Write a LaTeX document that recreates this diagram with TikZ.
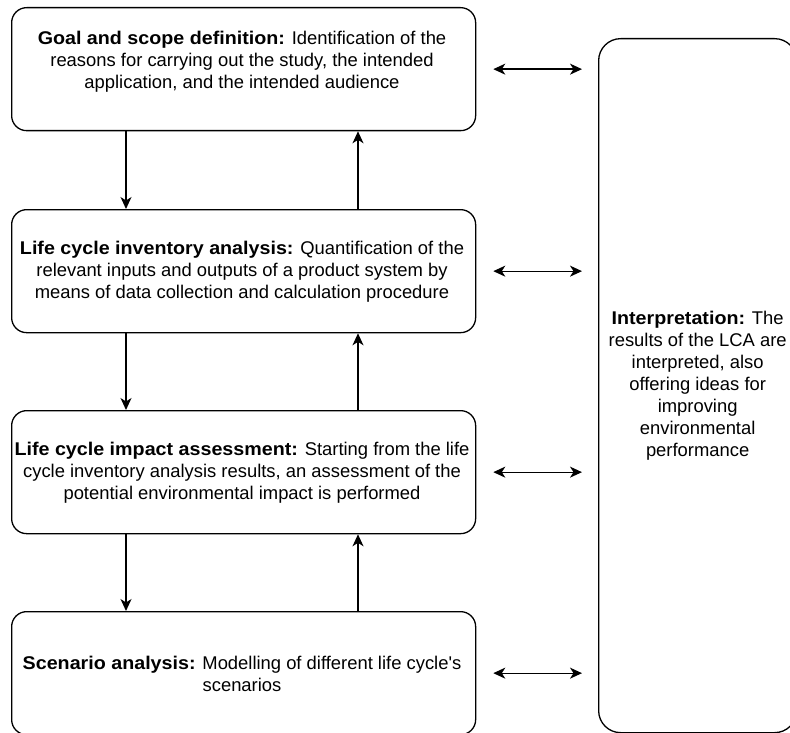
\documentclass[tikz,border=0pt]{standalone}
\usepackage{fontspec}
\setmainfont{Liberation Sans}[Ligatures=TeXOff, BoldFeatures={FakeStretch=1.07}]
\usetikzlibrary{arrows.meta}
\begin{document}
\begin{tikzpicture}[x=1pt,y=-1pt,
  box/.style={draw, line width=1.3pt, rounded corners=15pt, minimum width=464pt, minimum height=123pt, inner sep=0pt, anchor=north west},
  bigbox/.style={draw, line width=1.3pt, rounded corners=22pt, minimum width=198pt, minimum height=694pt, inner sep=0pt, anchor=north west, align=center, font=\fontsize{18.4}{22}\selectfont},
  txt/.style={align=center, font=\fontsize{18.4}{22.2}\selectfont, inner sep=0pt},
  conn/.style={line width=1.3pt, -{Stealth[length=12pt,width=11pt,inset=3.5pt]}},
  dconn/.style={line width=1.3pt, {Stealth[length=12pt,width=11pt,inset=3.5pt]}-{Stealth[length=12pt,width=11pt,inset=3.5pt]}, shorten <=17pt, shorten >=16pt}
]
\useasboundingbox (0,0) rectangle (790,733);
\clip (0,0) rectangle (790,733);
\node[box] (b1) at (11,7) {};
\node[box] (b2) at (11,209) {};
\node[box] (b3) at (11,410) {};
\node[box] (b4) at (11,611) {};
\node[bigbox] (interp) at (598,38) {\textbf{Interpretation:} The\\results of the LCA are\\interpreted, also\\offering ideas for\\improving\\environmental\\performance};

\node[txt] (t1) at (242,62) {\textbf{Goal and scope definition:} Identification of the\\reasons for carrying out the study, the intended\\application, and the intended audience};
\node[txt] (t2) at (242,272) {\textbf{Life cycle inventory analysis:} Quantification of the\\relevant inputs and outputs of a product system by\\means of data collection and calculation procedure};
\node[txt] (t3) at (242,473) {\textbf{Life cycle impact assessment:} Starting from the life\\cycle inventory analysis results, an assessment of the\\potential environmental impact is performed};
\node[txt] (t4) at (242,674) {\textbf{Scenario analysis:} Modelling of different life cycle's\\scenarios};

\coordinate (dx) at (126,0);
\coordinate (ux) at (358,0);
\draw[conn] (b1.south -| dx) -- (b2.north -| dx);
\draw[conn] (b2.south -| dx) -- (b3.north -| dx);
\draw[conn] (b3.south -| dx) -- (b4.north -| dx);
\draw[conn] (b2.north -| ux) -- (b1.south -| ux);
\draw[conn] (b3.north -| ux) -- (b2.south -| ux);
\draw[conn] (b4.north -| ux) -- (b3.south -| ux);

\draw[dconn] (b1.east) -- (b1.east -| interp.west);
\draw[dconn] (b2.east) -- (b2.east -| interp.west);
\draw[dconn] (b3.east) -- (b3.east -| interp.west);
\draw[dconn] (b4.east) -- (b4.east -| interp.west);
\end{tikzpicture}
\end{document}
